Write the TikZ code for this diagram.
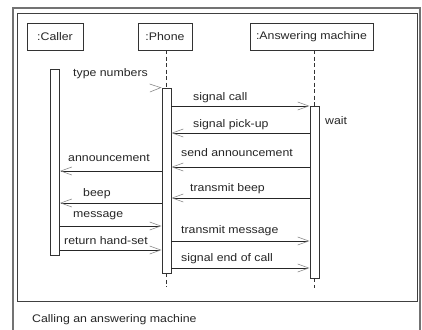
\documentclass[tikz,border=0pt]{standalone}
\usepackage{fontspec}
\setmainfont{Liberation Sans}[FakeStretch=1.12]
\usetikzlibrary{arrows.meta}
\begin{document}
\begin{tikzpicture}[x=1pt,y=-1pt,
  every node/.style={font=\fontsize{11}{13}\selectfont, text=black!85, inner sep=0pt},
  obj/.style={draw=black!80, line width=0.8pt, minimum height=27pt, fill=white},
  act/.style={draw=black!80, line width=0.8pt, fill=white, minimum width=9pt},
  life/.style={black!80, line width=0.7pt, dash pattern=on 4pt off 2.5pt},
  msg/.style={black!85, line width=0.8pt,
    -{Straight Barb[length=11pt,width=8pt,line width=0.6pt,color=black!45]}},
  lbl/.style={anchor=west},
]
% page and frames
\fill[white] (0,0) rectangle (422,329);
\useasboundingbox (0,0) rectangle (422,329);
\draw[black!55, line width=1.3pt] (13,340) -- (13,8) -- (420,8) -- (420,340);
\draw[black!75, line width=0.9pt] (17,13) rectangle (417,301);

% objects
\node[obj, minimum width=56pt] (caller) at (55,36.5) {:Caller};
\node[obj, minimum width=54pt] (phone) at (165,36.5) {:Phone};
\node[obj, minimum width=123pt] (am) at (311.5,36.5) {:Answering machine};

% lifelines
\coordinate (pend) at (166.5,287);
\coordinate (aend) at (314.5,288);
\draw[life] (166.5,50) -- (166.5,88);
\draw[life] (314.5,50) -- (314.5,106);

% activations
\node[act, minimum height=186pt] (cact) at (55,162) {};
\node[act, minimum height=185pt] (pact) at (166.5,180.5) {};
\node[act, minimum height=172pt] (aact) at (314.5,192) {};
\draw[life] (pact.south) -- (pend);
\draw[life] (aact.south) -- (aend);

% message levels
\coordinate (y1) at (0,106);
\coordinate (y2) at (0,133);
\coordinate (y3) at (0,167);
\coordinate (y4) at (0,171);
\coordinate (y5) at (0,198);
\coordinate (y6) at (0,203);
\coordinate (y7) at (0,226);
\coordinate (y8) at (0,241);
\coordinate (y9) at (0,250);
\coordinate (y10) at (0,268);

% found message: only its arrowhead is drawn
\coordinate (tn) at (150,88);
\draw[msg, white] (tn) -- (pact.north west);
\node[lbl] (ltn) at (73,74) {type numbers};

\draw[msg] (pact.east |- y1) -- (aact.west |- y1);
\node[lbl] (l1) at (193,98) {signal call};
\draw[msg] (aact.west |- y2) -- (pact.east |- y2);
\node[lbl] (l2) at (193,125) {signal pick-up};
\draw[msg] (aact.west |- y3) -- (pact.east |- y3);
\node[lbl] (l3) at (181,153) {send announcement};
\draw[msg] (pact.west |- y4) -- (cact.east |- y4);
\node[lbl] (l4) at (68,158) {announcement};
\draw[msg] (aact.west |- y5) -- (pact.east |- y5);
\node[lbl] (l5) at (190,189) {transmit beep};
\draw[msg] (pact.west |- y6) -- (cact.east |- y6);
\node[lbl] (l6) at (83,194) {beep};
\draw[msg] (cact.east |- y7) -- (pact.west |- y7);
\node[lbl] (l7) at (73,216) {message};
\draw[msg] (pact.east |- y8) -- (aact.west |- y8);
\node[lbl] (l8) at (181,231) {transmit message};
\draw[msg] (cact.east |- y9) -- (pact.west |- y9);
\node[lbl] (l9) at (64,241) {return hand-set};
\draw[msg] (pact.east |- y10) -- (aact.west |- y10);
\node[lbl] (l10) at (181,259) {signal end of call};

\node[lbl] (wait) at (325,121) {wait};
\node[lbl] (cap) at (32,320) {Calling an answering machine};
\end{tikzpicture}
\end{document}
